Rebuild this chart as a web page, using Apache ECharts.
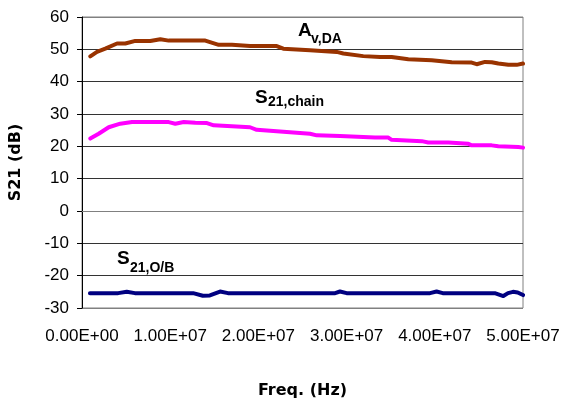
<!DOCTYPE html>
<html>
<head>
<meta charset="utf-8">
<script src="https://cdn.jsdelivr.net/npm/echarts@6/dist/echarts.min.js"></script>
<style>
  html, body { margin: 0; padding: 0; background: #fff; }
  #chart { width: 566px; height: 405px; }
</style>
</head>
<body>
<div id="chart"></div>
<script>
// frequencies in MHz, values in dB
const avFreq = [0.94, 1.7, 2.64, 3.97, 4.91, 6.04, 7.74, 8.88, 9.83, 13.98, 15.5, 17.0, 19.05, 22.08, 22.82, 25.85, 28.88, 29.63, 31.89, 33.79, 35.11, 37.0, 39.65, 41.92, 44.18, 44.75, 45.69, 46.45, 47.2, 48.34, 49.29, 50.0]
const avVal = [47.8, 49.2, 50.2, 51.8, 51.8, 52.6, 52.6, 53.1, 52.7, 52.7, 51.4, 51.4, 51.0, 51.0, 50.2, 49.7, 49.2, 48.7, 47.9, 47.6, 47.6, 46.9, 46.6, 46.0, 45.9, 45.4, 46.1, 46.0, 45.6, 45.2, 45.2, 45.6]

const chainFreq = [0.94, 1.89, 3.03, 4.34, 5.67, 9.83, 10.58, 11.53, 12.85, 14.17, 14.93, 17.0, 19.05, 19.81, 22.45, 25.85, 26.61, 29.25, 31.89, 33.22, 34.73, 35.11, 38.52, 39.26, 41.53, 43.8, 44.18, 46.45, 47.2, 49.47, 50.0]
const chainVal = [22.4, 23.9, 25.9, 27.0, 27.5, 27.5, 27.0, 27.5, 27.3, 27.2, 26.5, 26.2, 25.9, 25.1, 24.6, 23.9, 23.4, 23.2, 22.9, 22.7, 22.7, 22.0, 21.6, 21.2, 21.2, 20.8, 20.3, 20.3, 20.0, 19.8, 19.6]

const obFreq = [0.9, 4.1, 5.07, 6.0, 12.6, 13.7, 14.5, 15.65, 16.55, 28.7, 29.25, 30.0, 39.46, 40.2, 40.9, 46.8, 47.77, 48.3, 48.87, 49.4, 50.0]
const obVal = [-25.4, -25.4, -25.0, -25.4, -25.4, -26.2, -26.1, -24.9, -25.4, -25.4, -24.9, -25.4, -25.4, -24.9, -25.4, -25.4, -26.3, -25.4, -25.0, -25.2, -26.0]

const yTicks = [-30, -20, -10, 0, 10, 20, 30, 40, 50, 60]

const pairs = (f, v) => f.map((x, i) => [x * 1e6, v[i]])

const sciLabel = (v) => {
  if (v === 0) return '0.00E+00'
  const e = Math.floor(Math.log10(v))
  const m = v / Math.pow(10, e)
  return m.toFixed(2) + 'E+' + String(e).padStart(2, '0')
}

const labelFont = { fontFamily: 'Liberation Sans', fontSize: 17, color: '#000' }

var option = {
  animation: false,
  grid: {
    left: 82,
    right: 43,
    top: 17,
    bottom: 97,
    show: true,
    borderColor: '#808080',
    borderWidth: 1
  },
  xAxis: {
    type: 'value',
    min: 0,
    max: 5e7,
    interval: 1e7,
    name: 'Freq. (Hz)',
    nameLocation: 'middle',
    nameGap: 75,
    nameTextStyle: { fontFamily: 'DejaVu Sans', fontWeight: 'bold', fontSize: 16, color: '#000' },
    axisLine: { show: true, lineStyle: { color: '#808080', width: 1 } },
    axisTick: { show: false },
    splitLine: { show: false },
    axisLabel: Object.assign({ margin: 20, formatter: sciLabel }, labelFont)
  },
  yAxis: {
    type: 'value',
    min: yTicks[0],
    max: yTicks[yTicks.length - 1],
    interval: 10,
    name: 'S21 (dB)',
    nameLocation: 'middle',
    nameGap: 58,
    nameTextStyle: { fontFamily: 'DejaVu Sans', fontWeight: 'bold', fontSize: 16, color: '#000' },
    axisLine: { show: true, lineStyle: { color: '#000', width: 1 } },
    axisTick: { show: true, inside: false, length: 5, lineStyle: { color: '#000' } },
    splitLine: {
      show: true,
      lineStyle: {
        color: ['#808080', '#333', '#333', '#333', '#333', '#333', '#333', '#333', '#333', '#808080'],
        width: 1
      }
    },
    axisLabel: Object.assign({ margin: 13 }, labelFont)
  },
  series: [
    {
      name: 'Av,DA',
      type: 'line',
      data: pairs(avFreq, avVal),
      showSymbol: false,
      lineStyle: { color: '#993300', width: 4, cap: 'round', join: 'round' },
      itemStyle: { color: '#993300' }
    },
    {
      name: 'S21,chain',
      type: 'line',
      data: pairs(chainFreq, chainVal),
      showSymbol: false,
      lineStyle: { color: '#FF00FF', width: 4, cap: 'round', join: 'round' },
      itemStyle: { color: '#FF00FF' }
    },
    {
      name: 'S21,O/B',
      type: 'line',
      data: pairs(obFreq, obVal),
      showSymbol: false,
      lineStyle: { color: '#000080', width: 4, cap: 'round', join: 'round' },
      itemStyle: { color: '#000080' }
    }
  ],
  graphic: [
    { type: 'text', left: 298, top: 21, style: { text: 'A', font: 'bold 19px "Liberation Sans"', fill: '#000' } },
    { type: 'text', left: 311, top: 32, style: { text: 'v,DA', font: 'bold 14px "Liberation Sans"', fill: '#000' } },
    { type: 'text', left: 255, top: 88, style: { text: 'S', font: 'bold 19px "Liberation Sans"', fill: '#000' } },
    { type: 'text', left: 268, top: 95, style: { text: '21,chain', font: 'bold 14px "Liberation Sans"', fill: '#000' } },
    { type: 'text', left: 117, top: 249, style: { text: 'S', font: 'bold 19px "Liberation Sans"', fill: '#000' } },
    { type: 'text', left: 130, top: 261, style: { text: '21,O/B', font: 'bold 14px "Liberation Sans"', fill: '#000' } }
  ]
};

const chart = echarts.init(document.getElementById('chart'))
chart.setOption(option)
</script>
</body>
</html>
